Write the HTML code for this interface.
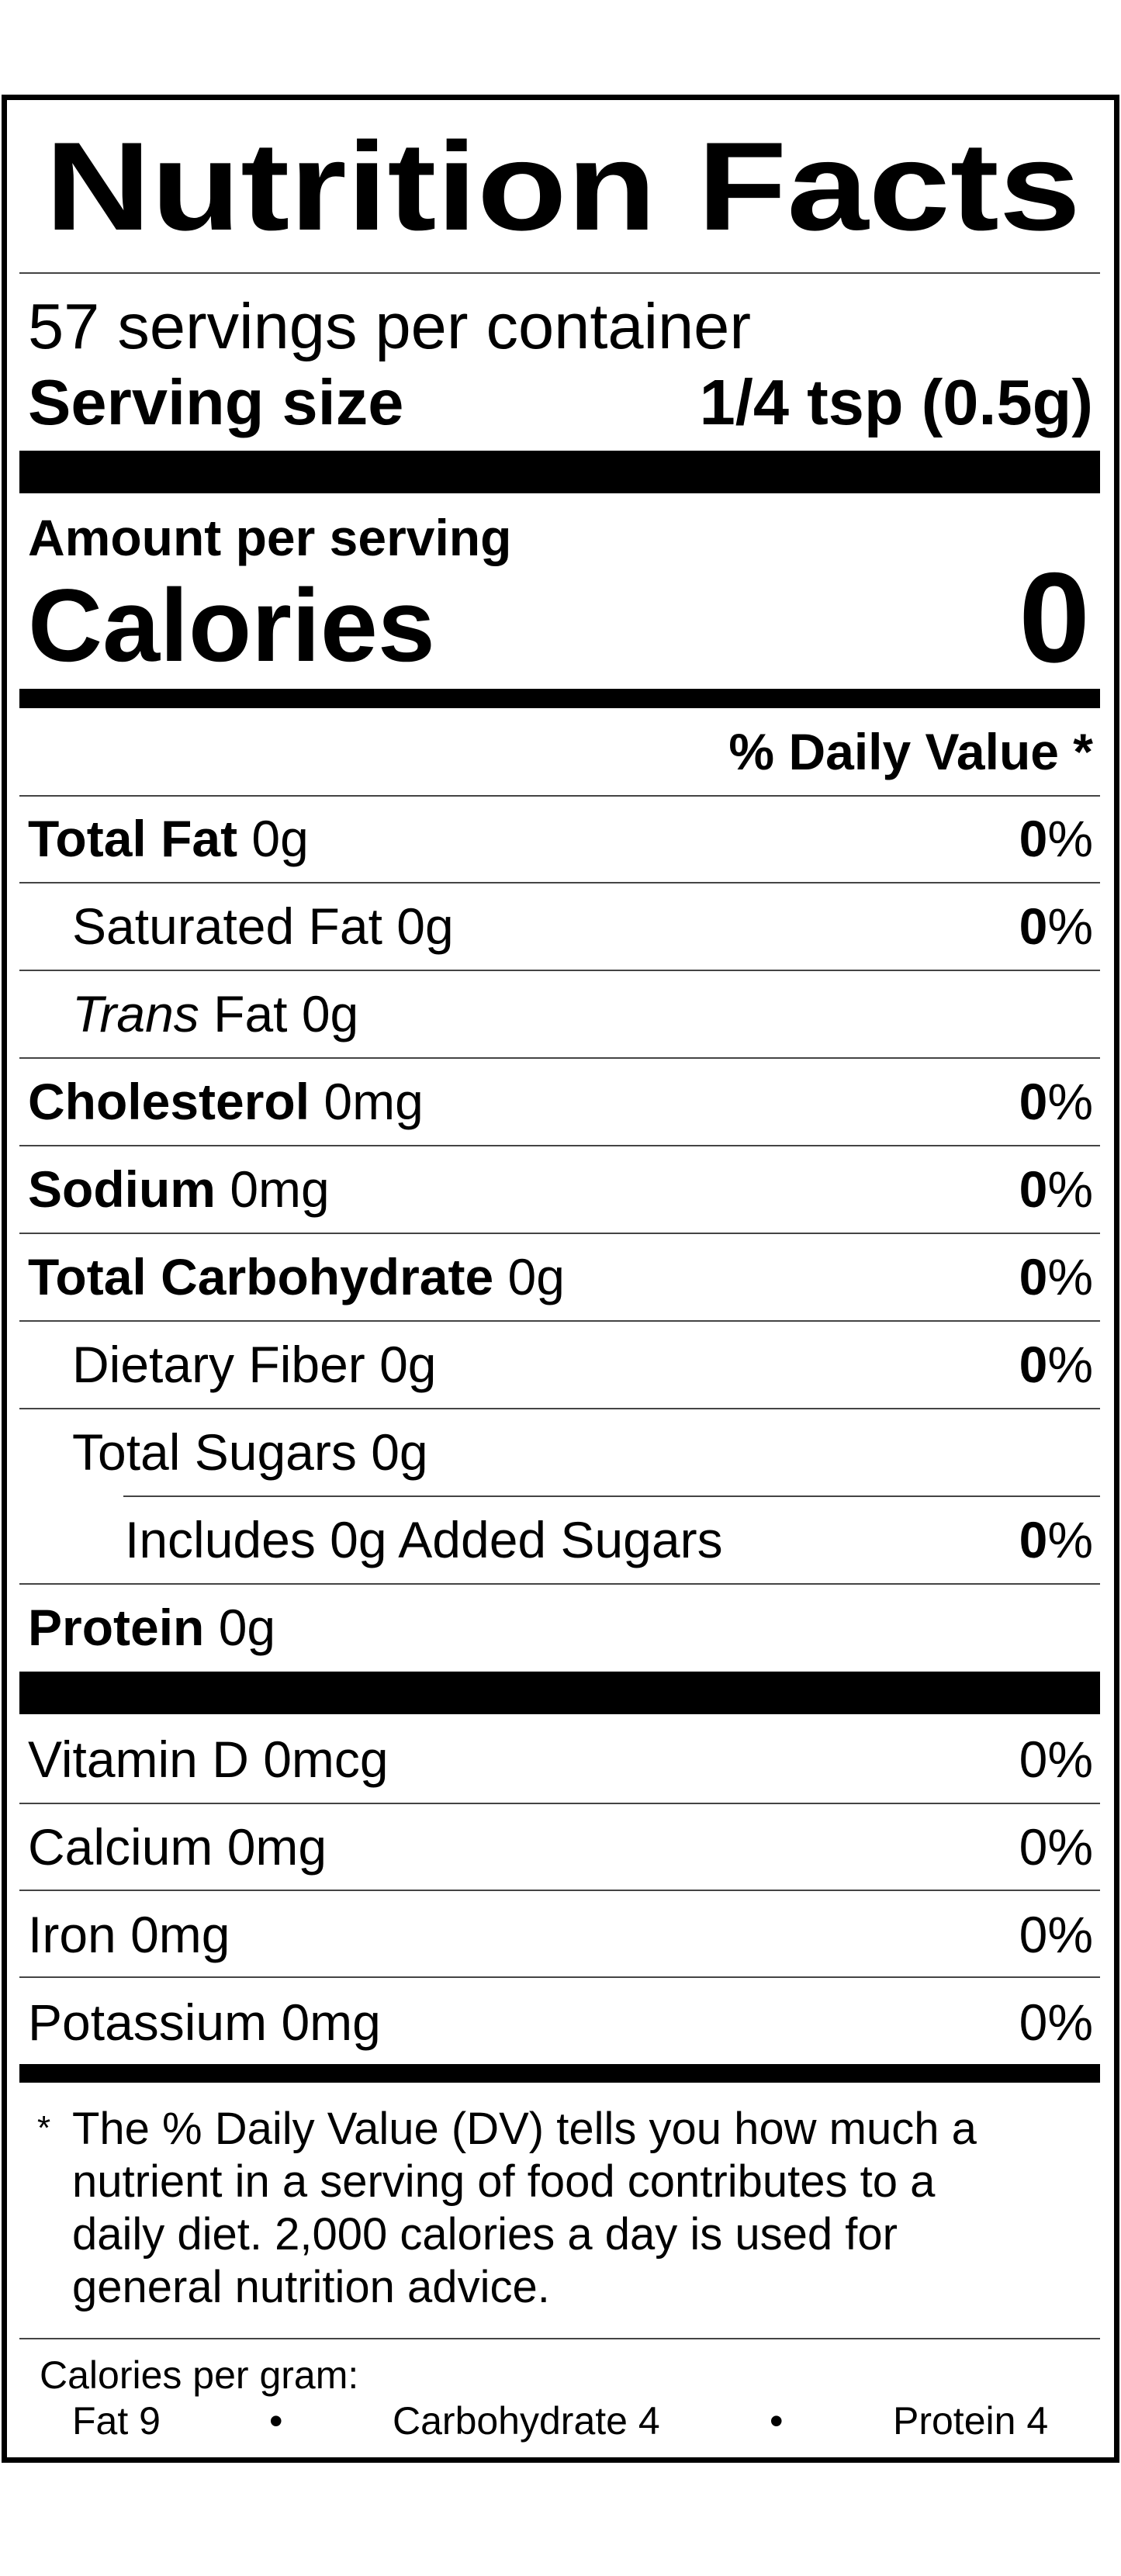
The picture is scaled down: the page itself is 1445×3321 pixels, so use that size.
<!DOCTYPE html>
<html><head><meta charset="utf-8"><style>
html,body{margin:0;padding:0;background:#fff;}
body{width:1445px;height:3321px;position:relative;overflow:hidden;font-family:"Liberation Sans",Arial,sans-serif;color:#000;}
.a{position:absolute;line-height:1;white-space:nowrap;}
.b{font-weight:bold;}
.hl{position:absolute;left:25px;width:1393px;height:2px;background:#444;}
.bar{position:absolute;left:25px;width:1393px;background:#000;}
</style></head><body>
<div style="position:absolute;left:2px;top:122px;width:1427px;height:3039px;border:7px solid #000;"></div>

<div class="a b" style="left:58px;top:160px;font-size:162px;transform:scaleX(1.168);transform-origin:0 0;">Nutrition Facts</div>
<div class="hl" style="top:351px;"></div>

<div class="a" style="left:36px;top:379px;font-size:83px;">57 servings per container</div>
<div class="a b" style="left:36px;top:477px;font-size:83px;">Serving size</div>
<div class="a b" style="right:36px;top:477px;font-size:83px;">1/4 tsp (0.5g)</div>
<div class="bar" style="top:581px;height:55px;"></div>

<div class="a b" style="left:36px;top:660px;font-size:66px;">Amount per serving</div>
<div class="a b" style="left:36px;top:741px;font-size:133px;">Calories</div>
<div class="a b" style="right:40px;top:714px;font-size:165px;">0</div>
<div class="bar" style="top:888px;height:25px;"></div>

<div class="a b" style="right:36px;top:936px;font-size:66px;">% Daily Value *</div>
<div class="hl" style="top:1025px;"></div>

<div class="a" style="left:36px;top:1048px;font-size:66px;"><b>Total Fat</b> 0g</div>
<div class="a" style="right:36px;top:1048px;font-size:66px;"><b>0</b>%</div>
<div class="hl" style="top:1137px;"></div>

<div class="a" style="left:93px;top:1161px;font-size:66px;">Saturated Fat 0g</div>
<div class="a" style="right:36px;top:1161px;font-size:66px;"><b>0</b>%</div>
<div class="hl" style="top:1250px;"></div>

<div class="a" style="left:93px;top:1274px;font-size:66px;"><i>Trans</i> Fat 0g</div>
<div class="hl" style="top:1363px;"></div>

<div class="a" style="left:36px;top:1387px;font-size:66px;"><b>Cholesterol</b> 0mg</div>
<div class="a" style="right:36px;top:1387px;font-size:66px;"><b>0</b>%</div>
<div class="hl" style="top:1476px;"></div>

<div class="a" style="left:36px;top:1500px;font-size:66px;"><b>Sodium</b> 0mg</div>
<div class="a" style="right:36px;top:1500px;font-size:66px;"><b>0</b>%</div>
<div class="hl" style="top:1589px;"></div>

<div class="a" style="left:36px;top:1613px;font-size:66px;"><b>Total Carbohydrate</b> 0g</div>
<div class="a" style="right:36px;top:1613px;font-size:66px;"><b>0</b>%</div>
<div class="hl" style="top:1702px;"></div>

<div class="a" style="left:93px;top:1726px;font-size:66px;">Dietary Fiber 0g</div>
<div class="a" style="right:36px;top:1726px;font-size:66px;"><b>0</b>%</div>
<div class="hl" style="top:1815px;"></div>

<div class="a" style="left:93px;top:1839px;font-size:66px;">Total Sugars 0g</div>
<div class="hl" style="top:1928px;left:159px;width:1259px;"></div>

<div class="a" style="left:161px;top:1952px;font-size:66px;">Includes 0g Added Sugars</div>
<div class="a" style="right:36px;top:1952px;font-size:66px;"><b>0</b>%</div>
<div class="hl" style="top:2041px;"></div>

<div class="a" style="left:36px;top:2065px;font-size:66px;"><b>Protein</b> 0g</div>
<div class="bar" style="top:2155px;height:55px;"></div>

<div class="a" style="left:36px;top:2235px;font-size:66px;">Vitamin D 0mcg</div>
<div class="a" style="right:36px;top:2235px;font-size:66px;">0%</div>
<div class="hl" style="top:2324px;"></div>

<div class="a" style="left:36px;top:2348px;font-size:66px;">Calcium 0mg</div>
<div class="a" style="right:36px;top:2348px;font-size:66px;">0%</div>
<div class="hl" style="top:2436px;"></div>

<div class="a" style="left:36px;top:2461px;font-size:66px;">Iron 0mg</div>
<div class="a" style="right:36px;top:2461px;font-size:66px;">0%</div>
<div class="hl" style="top:2548px;"></div>

<div class="a" style="left:36px;top:2574px;font-size:66px;">Potassium 0mg</div>
<div class="a" style="right:36px;top:2574px;font-size:66px;">0%</div>
<div class="bar" style="top:2661px;height:24px;"></div>

<div class="a" style="left:48px;top:2722px;font-size:44px;">*</div>
<div style="position:absolute;left:93px;top:2711px;width:1300px;font-size:58px;line-height:68px;">The % Daily Value (DV) tells you how much a<br>nutrient in a serving of food contributes to a<br>daily diet. 2,000 calories a day is used for<br>general nutrition advice.</div>
<div class="hl" style="top:3014px;"></div>

<div class="a" style="left:51px;top:3037px;font-size:50px;">Calories per gram:</div>
<div class="a" style="left:93px;top:3096px;font-size:50px;">Fat 9</div>
<div class="a" style="left:347px;top:3096px;font-size:50px;">•</div>
<div class="a" style="left:506px;top:3096px;font-size:50px;">Carbohydrate 4</div>
<div class="a" style="left:992px;top:3096px;font-size:50px;">•</div>
<div class="a" style="left:1151px;top:3096px;font-size:50px;">Protein 4</div>
</body></html>
